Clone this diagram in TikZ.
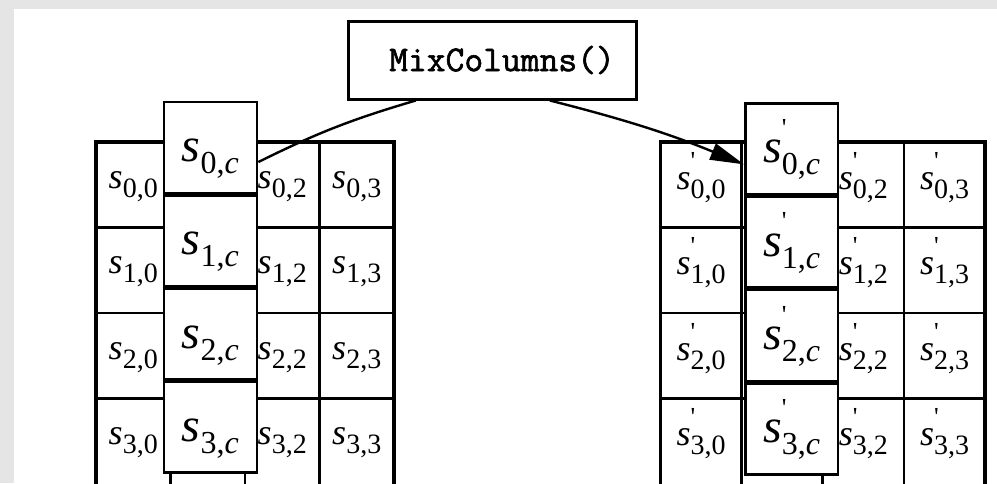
\documentclass[tikz,border=0pt]{standalone}
\usepackage{fontspec}
\setmainfont{Liberation Serif}
\newfontfamily\monob[FakeBold=1.6]{Latin Modern Mono}
\usetikzlibrary{arrows.meta}
\newcommand\primemark{\rlap{\raisebox{0.55em}{\fontsize{26}{26}\selectfont\upshape\textquotesingle}}}
\newcommand\cellS[2]{{\fontsize{36}{36}\selectfont\itshape s#2}\raisebox{-9pt}{\fontsize{28}{28}\selectfont #1}}
\newcommand\colS[2]{{\fontsize{48}{48}\selectfont\itshape s#2}\raisebox{-12pt}{\fontsize{32}{32}\selectfont #1}}
\begin{document}
\begin{tikzpicture}[x=1pt,y=-1pt,
  gridouter/.style={line width=3.4pt},
  gridinner/.style={line width=2.6pt},
  colbox/.style={draw,fill=white,line width=2.8pt,minimum width=93pt,minimum height=91pt,inner sep=0pt,anchor=north west},
  rcolbox/.style={colbox,minimum width=92.5pt},
  celltext/.style={anchor=base,inner sep=0pt},
  opbox/.style={draw,line width=3pt,minimum width=288pt,minimum height=78pt,inner sep=0pt,
    font=\monob\fontsize{36.5}{37}\selectfont},
  conn/.style={line width=2.4pt}]
\useasboundingbox (0,0) rectangle (997,483);
\clip (0,0) rectangle (997,483);
\fill[black!10] (0,0) rectangle (997,483);
\fill[white] (14,9) rectangle (997,483);

% left grid
\draw[gridouter] (96,495) -- (96,142) -- (394,142) -- (394,495);
\foreach \y in {227.5,313,398.5} \draw[gridinner] (96,\y) -- (394,\y);
\foreach \x in {170.5,245,319.5} \draw[gridinner] (\x,142) -- (\x,495);
% right grid
\draw[gridouter] (660.5,495) -- (660.5,142) -- (985,142) -- (985,495);
\foreach \y in {227.5,313,398.5} \draw[gridinner] (660.5,\y) -- (985,\y);
\foreach \x in {741.6,822.7,903.9} \draw[gridinner] (\x,142) -- (\x,495);

% cell texts
\foreach \r in {0,1,2,3}{
  \node[celltext] (l-\r-0) at (133.25,188+85.5*\r) {\cellS{\r,0}{}};
  \node[celltext] (l-\r-2) at (282.25,188+85.5*\r) {\cellS{\r,2}{}};
  \node[celltext] (l-\r-3) at (356.75,188+85.5*\r) {\cellS{\r,3}{}};
  \node[celltext] (r-\r-0) at (701,189+85.5*\r) {\cellS{\r,0}{\primemark}};
  \node[celltext] (r-\r-2) at (863.3,189+85.5*\r) {\cellS{\r,2}{\primemark}};
  \node[celltext] (r-\r-3) at (944.5,189+85.5*\r) {\cellS{\r,3}{\primemark}};
}

% column boxes
\node[colbox] (lc0) at (162.5,100.5) {};
\node[colbox] (lc1) at (162.5,193.8) {};
\node[colbox] (lc2) at (162.5,287.1) {};
\node[colbox] (lc3) at (162.5,380.4) {};
\node[rcolbox] (rc0) at (744,102) {};
\node[rcolbox] (rc1) at (744,195.3) {};
\node[rcolbox] (rc2) at (744,288.6) {};
\node[rcolbox] (rc3) at (744,381.9) {};
\foreach \i in {0,1,2,3}{
  \node[celltext] (lt\i) at ([yshift=-14pt]lc\i.center) {\colS{\i,\textit{c}}{}};
  \node[celltext] (rt\i) at ([yshift=-14pt]rc\i.center) {\colS{\i,\textit{c}}{\primemark}};
}

% operation box
\node[opbox] (mc) at (492,60) {\hspace*{20pt}MixColumns()};

% connectors
\draw[conn] (mc.208) to[bend right=5] (lc0.-17);
\draw[conn,-{Triangle[length=34pt,width=17pt]}] (mc.-35) to[bend left=4] (rc0.198);
\end{tikzpicture}
\end{document}
